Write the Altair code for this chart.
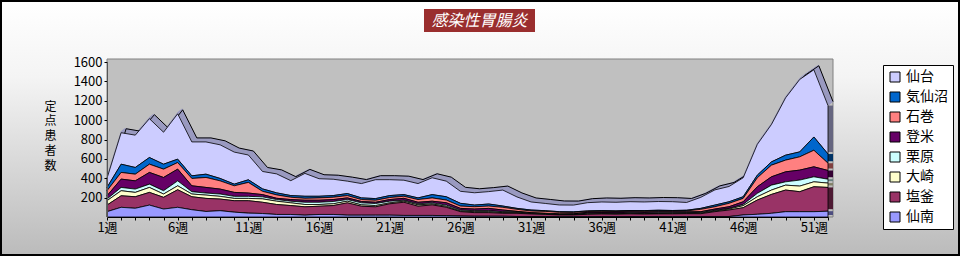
import altair as alt
import pandas as pd

weeks = list(range(1, 53))
regions = ["仙台", "気仙沼", "石巻", "登米", "栗原", "大崎", "塩釜", "仙南"]
colors = ["#CCCCFF", "#0066CC", "#FF8080", "#660066", "#CCFFFF", "#FFFFCC", "#993366", "#9999FF"]
side_colors = ["#666680", "#003366", "#804040", "#330033", "#668080", "#808066", "#4D1A33", "#4D4D80"]

sennan = [55, 100, 90, 123, 82, 100, 75, 57, 65, 50, 40, 36, 26, 26, 19, 26, 26, 19, 19, 19,
          19, 16, 16, 16, 14, 10, 8, 8, 8, 5, 5, 5, 4, 4, 4, 5, 4, 5, 4, 5,
          4, 4, 3, 3, 5, 21, 28, 38, 55, 55, 55, 60]
shiogama = [68, 119, 119, 131, 121, 181, 134, 135, 120, 118, 128, 116, 103, 92, 86, 85, 92, 127, 92, 86,
            117, 136, 95, 109, 86, 45, 37, 37, 30, 33, 26, 22, 17, 17, 24, 26, 25, 27, 26, 27,
            28, 30, 31, 52, 67, 75, 147, 195, 223, 206, 257, 245]
osaki = [45, 52, 45, 51, 34, 41, 28, 34, 28, 24, 24, 35, 34, 28, 24, 18, 18, 17, 14, 13,
         10, 11, 14, 10, 10, 7, 10, 10, 7, 7, 4, 4, 3, 3, 5, 4, 5, 6, 5, 5,
         6, 5, 7, 7, 10, 21, 34, 45, 51, 58, 51, 45]
kurihara = [17, 34, 34, 34, 34, 51, 24, 21, 24, 21, 21, 21, 17, 17, 23, 23, 24, 17, 21, 21,
            17, 10, 11, 11, 13, 10, 10, 10, 10, 7, 3, 4, 4, 4, 6, 7, 6, 5, 6, 6,
            5, 5, 7, 7, 7, 13, 35, 51, 34, 62, 52, 40]
tome = [34, 86, 85, 121, 137, 121, 61, 58, 51, 41, 34, 23, 13, 17, 21, 21, 20, 17, 14, 13,
        17, 20, 16, 17, 24, 17, 17, 24, 17, 6, 7, 3, 3, 5, 10, 9, 11, 10, 10, 11,
        10, 9, 7, 13, 17, 27, 68, 86, 103, 103, 103, 90]
ishinomaki = [52, 69, 69, 85, 86, 68, 76, 103, 85, 68, 110, 34, 35, 24, 20, 24, 24, 24, 20, 21,
              21, 21, 28, 34, 28, 24, 24, 24, 28, 21, 17, 20, 17, 14, 8, 9, 7, 8, 9, 9,
              8, 10, 24, 24, 35, 35, 93, 120, 121, 137, 171, 75]
kesennuma = [34, 85, 69, 69, 51, 35, 27, 34, 25, 17, 27, 25, 21, 17, 21, 17, 17, 21, 17, 17,
             20, 17, 17, 34, 34, 28, 17, 21, 13, 10, 10, 7, 7, 6, 6, 6, 5, 6, 6, 7,
             6, 7, 10, 17, 16, 17, 27, 34, 51, 51, 137, 95]
sendai = [95, 325, 334, 401, 330, 468, 350, 333, 347, 331, 256, 180, 196, 154, 236, 181, 169, 128, 148, 195,
          164, 149, 148, 174, 161, 124, 127, 128, 165, 118, 83, 75, 69, 70, 85, 89, 89, 91, 89, 90,
          91, 80, 114, 157, 158, 196, 318, 386, 592, 748, 694, 500]

series = {"仙台": sendai, "気仙沼": kesennuma, "石巻": ishinomaki, "登米": tome,
          "栗原": kurihara, "大崎": osaki, "塩釜": shiogama, "仙南": sennan}

rows = []
for name, vals in series.items():
    i = regions.index(name)
    for w, v in zip(weeks, vals):
        rows.append({"week": w, "region": name, "value": v,
                     "idx": len(regions) - 1 - i, "side": side_colors[i]})
df = pd.DataFrame(rows)
one = pd.DataFrame({"k": [0]})

FONT = "Noto Sans CJK JP"
W, H = 721, 155
PAD = {"left": 107, "top": 62, "right": 132, "bottom": 39}

xscale = alt.Scale(domain=[1, 52], nice=False, zero=False)
yscale = alt.Scale(domain=[0, 1600], nice=False)
xaxis = alt.Axis(values=weeks, labelExpr="(datum.value-1)%5==0 ? datum.value+'週' : ''",
                 title=None, grid=False, tickSize=3, labelPadding=1, labelFont=FONT,
                 labelFontSize=13, labelColor="black", domainColor="black", tickColor="black",
                 labelFlush=False, labelOverlap=False, zindex=1)
yaxis = alt.Axis(values=[200, 400, 600, 800, 1000, 1200, 1400, 1600], format="d", grid=False,
                 tickSize=3, labelPadding=2, labelFont=FONT, labelFontSize=13, labelColor="black",
                 domainColor="#555555", tickColor="black",
                 title=["定", "点", "患", "者", "数"], titleAngle=0, titleFont=FONT,
                 titleFontSize=12, titleFontWeight="normal", titleColor="black",
                 titleLineHeight=14.8, titleBaseline="top", titleAlign="center",
                 titleX=-57, titleY=39, zindex=1)

bg = alt.Chart(one).mark_rect(
    fill=alt.Gradient(gradient="linear",
                      stops=[alt.GradientStop(color="#FFFFFF", offset=0),
                             alt.GradientStop(color="#F4F4F4", offset=0.3),
                             alt.GradientStop(color="#BBBBBB", offset=1)],
                      x1=0, x2=0, y1=0, y2=1),
    stroke="black", strokeWidth=2
).encode(x=alt.value(-PAD["left"] + 1), x2=alt.value(W + PAD["right"] - 1),
         y=alt.value(-PAD["top"] + 1), y2=alt.value(H + PAD["bottom"] - 1))

wall = alt.Chart(one).mark_rect(fill="#C0C0C0", stroke="#808080", strokeWidth=1).encode(
    x=alt.value(0), x2=alt.value(W + 5), y=alt.value(-3), y2=alt.value(H))

title_box = alt.Chart(one).mark_rect(fill="#9A2E2E").encode(
    x=alt.value(317), x2=alt.value(428), y=alt.value(-53), y2=alt.value(-30))
title_txt = alt.Chart(one).mark_text(
    text="感染性胃腸炎", font=FONT, fontSize=16, fontStyle="italic", color="white",
    align="center", baseline="middle").encode(x=alt.value(372.5), y=alt.value(-41))

ridge_base = alt.Chart(df).transform_aggregate(total="sum(value)", groupby=["week"])
ridge_enc = dict(x=alt.X("week:Q", scale=xscale, axis=xaxis),
                 y=alt.Y("total:Q", scale=yscale, axis=yaxis))
ridge_layers = []
for k in [0.5, 1.25, 2.0, 2.75, 3.5, 4.25]:
    ridge_layers.append(ridge_base.mark_line(color="#9A9AC0", strokeWidth=2.2, xOffset=k,
                                             yOffset=-0.8 * k).encode(**ridge_enc))
ridge_layers.append(ridge_base.mark_line(color="black", strokeWidth=1, xOffset=5,
                                         yOffset=-4).encode(**ridge_enc))

side = alt.Chart(df).transform_filter("datum.week == 52").transform_stack(
    stack="value", groupby=["week"], as_=["y0", "y1"],
    sort=[alt.SortField("idx", order="ascending")]
).mark_rule(strokeWidth=5, xOffset=2.5, yOffset=-2, strokeCap="butt").encode(
    x=alt.X("week:Q", scale=xscale, axis=xaxis),
    y=alt.Y("y0:Q", scale=yscale, axis=yaxis), y2="y1:Q",
    stroke=alt.Stroke("side:N", scale=None))

areas = alt.Chart(df).mark_area(stroke="black", strokeWidth=0.8, opacity=1).encode(
    x=alt.X("week:Q", scale=xscale, axis=xaxis),
    y=alt.Y("value:Q", stack="zero", scale=yscale, axis=yaxis),
    color=alt.Color("region:N", scale=alt.Scale(domain=regions, range=colors),
                    legend=alt.Legend(orient="none", legendX=776, legendY=3, title=None,
                                      symbolType="square", symbolSize=100,
                                      symbolStrokeColor="black", symbolStrokeWidth=1,
                                      symbolOpacity=1, labelFont=FONT, labelFontSize=14,
                                      labelColor="black", labelOffset=4, rowPadding=6,
                                      padding=5, strokeColor="black", fillColor="white",
                                      labelLimit=0)),
    order=alt.Order("idx:Q", sort="ascending"))

chart = alt.layer(bg, wall, title_box, title_txt, *ridge_layers, side, areas).properties(
    width=W, height=H, autosize=alt.AutoSizeParams(type="none"), padding=PAD,
    background="white"
).configure_view(stroke=None)

chart.save("out.html", embed_options={"renderer": "svg", "actions": False})
